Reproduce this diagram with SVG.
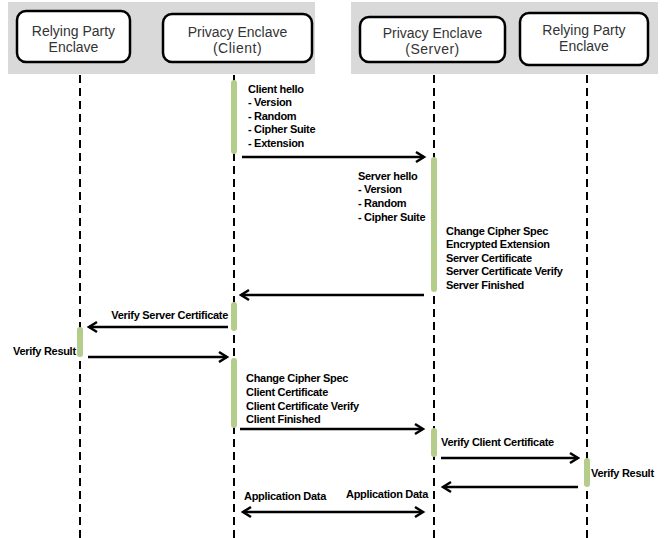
<svg xmlns="http://www.w3.org/2000/svg" width="666" height="538" viewBox="0 0 666 538">
<style>
.bg{fill:#d9d9d9}
.box{fill:#fff;stroke:#000;stroke-width:2.5}
.hd{font-family:"Liberation Sans",Arial,sans-serif;font-size:14px;fill:#333;text-anchor:middle}
.life{stroke:#000;stroke-width:2;stroke-dasharray:8 5;fill:none}
.act{fill:#b5cd8a}
.msg{stroke:#000;stroke-width:2.5;fill:none}
.lb{font-family:"Liberation Sans",Arial,sans-serif;font-size:11px;font-weight:bold;letter-spacing:-0.3px;fill:#000}
</style>
<defs>
<marker id="ah" markerUnits="userSpaceOnUse" markerWidth="16" markerHeight="16" viewBox="-10 -8 12 16" refX="0" refY="0" orient="auto-start-reverse">
<path d="M-8,-5 L0,0 L-8,5" fill="none" stroke="#000" stroke-width="2.5"/>
</marker>
</defs>
<rect class="bg" x="8" y="2" width="307" height="72"/>
<rect class="bg" x="351" y="2" width="307" height="72"/>
<g id="lifelines">
<line class="life" x1="80" y1="75" x2="80" y2="538"/>
<line class="life" x1="234" y1="75" x2="234" y2="538"/>
<line class="life" x1="434" y1="75" x2="434" y2="538"/>
<line class="life" x1="587" y1="75" x2="587" y2="538"/>
</g>
<g id="rp-left">
<rect class="box" x="17" y="11" width="113" height="51" rx="9"/>
<text class="hd" x="73.5" y="36">Relying Party</text>
<text class="hd" x="73.5" y="52">Enclave</text>
</g>
<g id="pe-client">
<rect class="box" x="163" y="14" width="149" height="48" rx="9"/>
<text class="hd" x="237.5" y="37">Privacy Enclave</text>
<text class="hd" x="237.5" y="53" letter-spacing="0.5">(Client)</text>
</g>
<g id="pe-server">
<rect class="box" x="360" y="17" width="145" height="45" rx="9"/>
<text class="hd" x="432.5" y="38">Privacy Enclave</text>
<text class="hd" x="432.5" y="54" letter-spacing="0.5">(Server)</text>
</g>
<g id="rp-right">
<rect class="box" x="520" y="13" width="128" height="52" rx="9"/>
<text class="hd" x="584" y="35">Relying Party</text>
<text class="hd" x="584" y="51">Enclave</text>
</g>
<g id="activations">
<rect class="act" x="231" y="80" width="6" height="74" rx="3"/>
<rect class="act" x="431" y="157" width="6" height="135" rx="3"/>
<rect class="act" x="231" y="302" width="6" height="29" rx="3"/>
<rect class="act" x="77" y="327" width="6" height="30" rx="3"/>
<rect class="act" x="231" y="358" width="6" height="70" rx="3"/>
<rect class="act" x="431" y="428" width="6" height="29" rx="3"/>
<rect class="act" x="584" y="458" width="6" height="29" rx="3"/>
</g>
<g id="connectors">
<line class="msg" x1="242" y1="157" x2="424" y2="157" marker-end="url(#ah)"/>
<line class="msg" x1="424" y1="295" x2="241" y2="295" marker-end="url(#ah)"/>
<line class="msg" x1="228" y1="327" x2="89" y2="327" marker-end="url(#ah)"/>
<line class="msg" x1="88" y1="357" x2="227" y2="357" marker-end="url(#ah)"/>
<line class="msg" x1="240" y1="429" x2="423" y2="429" marker-end="url(#ah)"/>
<line class="msg" x1="441" y1="458" x2="578" y2="458" marker-end="url(#ah)"/>
<line class="msg" x1="578" y1="487" x2="443" y2="487" marker-end="url(#ah)"/>
<line class="msg" x1="243" y1="512" x2="423" y2="512" marker-start="url(#ah)" marker-end="url(#ah)"/>
</g>
<g id="labels">
<text class="lb" x="248" y="93">Client hello</text>
<text class="lb" x="248" y="106">- Version</text>
<text class="lb" x="248" y="120">- Random</text>
<text class="lb" x="248" y="133">- Cipher Suite</text>
<text class="lb" x="248" y="147">- Extension</text>
<text class="lb" x="358" y="180">Server hello</text>
<text class="lb" x="358" y="193">- Version</text>
<text class="lb" x="358" y="207">- Random</text>
<text class="lb" x="358" y="221">- Cipher Suite</text>
<text class="lb" x="446" y="235">Change Cipher Spec</text>
<text class="lb" x="446" y="248">Encrypted Extension</text>
<text class="lb" x="446" y="262">Server Certificate</text>
<text class="lb" x="446" y="275">Server Certificate Verify</text>
<text class="lb" x="446" y="289">Server Finished</text>
<text class="lb" x="228" y="319" text-anchor="end">Verify Server Certificate</text>
<text class="lb" x="13" y="355">Verify Result</text>
<text class="lb" x="246" y="382">Change Cipher Spec</text>
<text class="lb" x="246" y="396">Client Certificate</text>
<text class="lb" x="246" y="410">Client Certificate Verify</text>
<text class="lb" x="246" y="423">Client Finished</text>
<text class="lb" x="441" y="446">Verify Client Certificate</text>
<text class="lb" x="591" y="477">Verify Result</text>
<text class="lb" x="244" y="500">Application Data</text>
<text class="lb" x="346" y="498">Application Data</text>
</g>
</svg>
